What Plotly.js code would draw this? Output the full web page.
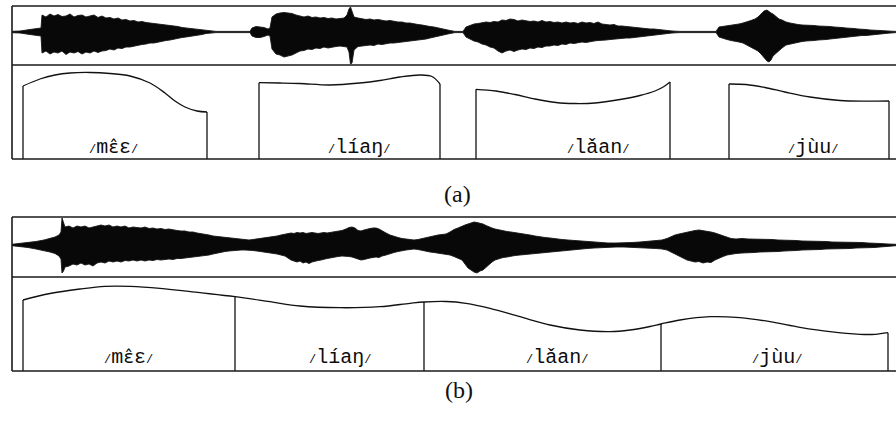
<!DOCTYPE html>
<html><head><meta charset="utf-8">
<script src="https://cdn.plot.ly/plotly-3.0.1.min.js"></script>
<style>html,body{margin:0;padding:0;background:#fff}#chart{width:896px;height:423px}</style>
</head><body><div id="chart"></div>
<script>
// ---- Panel (a): waveform envelope (time units, amplitude) ----
const waveA_t = [
12,20,30,38,41,42,46,50,54,58,
62,66,70,74,78,82,86,90,94,98,
102,106,110,114,118,122,126,130,134,138,
142,146,150,154,158,162,166,170,174,178,
182,186,190,194,198,202,206,210,216,250,
252,256,260,264,268,270,272,276,280,284,
288,292,296,300,304,308,312,316,320,324,
328,332,336,340,344,347,349,350.5,352,354,
358,362,366,370,374,378,382,386,390,394,
398,402,406,410,414,418,422,426,430,434,
438,442,446,450,455,463,466,470,474,478,
482,486,490,494,498,502,506,510,514,518,
522,526,530,534,538,542,546,550,554,558,
562,566,570,574,578,582,586,590,594,598,
602,606,610,614,618,622,626,630,634,638,
642,646,650,654,658,662,666,672,680,716,
719,723,727,731,735,739,743,747,751,755,
758,761,764,767,769,771,773,776,779,782,
786,790,794,798,802,806,810,814,818,822,
826,830,834,838,842,846,850,854,858,862,
866,870,875,880,888,896];
const waveA_hi = [
0.7,1,2.5,3.5,4,17,15,18,16,17.5,
15.5,16,18,15,16.5,17,15,16,17,14.5,
16,14,14.5,13,14,12,12.5,11,11.5,10,
10.5,9.5,9,9,8,8,7,6.5,6,5.5,
4.5,4,3.5,3,2.5,2,1.4,1,0.6,0.6,
4,5.5,5,4.5,3,4,15,18,19,19.5,
19,18.5,17,16,15,16,14.5,15,14,14.5,
13.5,14,13,13.5,14,17,23,25,21,15,
14,13.5,12.5,13,12,12.5,11.5,11,11.5,10.5,
10,10,9,9,8,7.5,7,6,5.5,5,
4,3.5,2.5,1.5,0.6,0.6,5,6.5,8,8.5,
9.5,10,9.5,10.5,10,12,11.5,13,12.5,11,
12,11,10.5,11,10,11.5,10,10.5,9.5,10,
9,10,9,9.5,8.5,10,9,9.5,8.5,10,
8,7.5,7,7.5,6,6,5.5,5,4.5,4.5,
4,3.5,3,3,2.5,2,1.5,1,0.6,0.6,
5,5.5,6,6.5,7.5,8,9,10,11.5,13,
15,18,21,22,20,19,18,15,13,12,
10,9,8,7.5,7,7,6.5,6.5,6,6,
5.5,5.5,5,5,4.5,4,4,3.5,3,3,
2.5,2,2,1.5,1,0.6];
const waveA_lo = [
-0.7,-1,-2.5,-3.5,-4,-21,-19,-22,-20,-21,
-19,-22.5,-20,-21,-19.5,-22,-20,-21,-19,-20.5,
-19,-18.5,-17,-18,-16,-16.5,-15,-15,-14,-13.5,
-12.5,-12,-11,-11,-10,-9.5,-8.5,-8,-7,-6.5,
-5.5,-5,-4.5,-3.5,-3,-2.5,-1.5,-1,-0.6,-0.6,
-4,-5.5,-5.5,-4.5,-3,-4,-17,-22,-23,-25,
-24,-23,-21,-19,-18.5,-17,-17.5,-16,-16.5,-15,
-16,-15,-14.5,-14,-15,-15,-20,-32,-31,-18,
-14.5,-14,-13.5,-13,-13.5,-12,-12.5,-11.5,-11,-11,
-10.5,-10,-9.5,-9,-9,-8,-7.5,-7,-6,-5,
-4.5,-3.5,-2.5,-1.5,-0.6,-0.6,-5,-7,-9,-10,
-12,-13,-15,-16,-19,-21,-19,-18,-19.5,-18,
-17,-17.5,-16,-16.5,-15,-15.5,-14,-14,-13,-13.5,
-12,-12.5,-11,-11.5,-10.5,-10,-10.5,-9.5,-9,-8.5,
-8.5,-8,-7.5,-7,-7,-6.5,-6,-6,-5.5,-5,
-5,-4.5,-4,-3.5,-3,-2.5,-2,-1,-0.6,-0.6,
-5,-6.5,-7.5,-8.5,-9,-10,-11,-13,-15,-17,
-19,-22,-26,-29,-30,-28,-24,-21,-18,-16,
-13,-12,-11,-10,-9.5,-9,-9,-8.5,-8,-8,
-7.5,-7,-6.5,-6,-5.5,-5.5,-5,-4.5,-4,-3.5,
-3.5,-3,-2.5,-2,-1.2,-0.6];

// ---- Panel (a): pitch contours, one per syllable ----
const pitchA1_t = [23,40,55,70,90,110,130,150,165,175,185,197,207];
const pitchA1_f = [73,80,84,86,86.5,85.5,83,76,66,58,52,48,47];
const pitchA2_t = [259,280,300,330,360,380,400,420,432,440];
const pitchA2_f = [76.3,76,75.5,74,76,78.5,82,84,82.5,75];
const pitchA3_t = [476,496,515,535,556,575,595,620,640,655,664,670];
const pitchA3_f = [69.7,68,64.5,60,56.5,55.5,56,59.5,63.5,68,72.5,77];
const pitchA4_t = [729,746,765,785,810,840,865,889];
const pitchA4_f = [75,74.5,71.5,67,62,58.5,57.8,58];
const labelsA = ["mɛ̂ɛ","líaŋ","lǎan","jùu"];
const labelsA_t = [113,359,598,813];

// ---- Panel (b): waveform envelope ----
const waveB_t = [
12,20,28,36,44,50,55,59,61,62,
63.5,65,69,73,77,81,85,89,93,97,
101,105,109,113,117,121,125,129,133,137,
141,145,149,153,157,161,165,169,173,177,
181,185,189,193,197,201,205,209,213,217,
221,225,229,233,237,241,245,249,253,257,
261,265,269,273,277,281,285,288,291,294,
297,300,303,306,309,312,315,318,321,324,
327,330,334,338,342,346,349,352,355,358,
361,364,367,370,373,376,379,382,386,390,
394,398,402,406,410,414,418,422,426,430,
434,438,442,446,450,454,458,462,465,468,
471,474,477,480,483,486,489,492,495,499,
503,507,511,515,520,525,530,535,540,545,
550,556,562,568,574,580,587,594,601,608,
616,624,632,640,648,656,662,667,671,675,
679,683,687,691,695,699,703,707,711,715,
719,723,727,731,736,742,748,754,760,766,
772,778,784,790,796,802,808,814,820,826,
832,838,844,850,856,862,868,874,880,888,
896];
const waveB_hi = [
0.7,1.5,2.5,3.5,5,6.5,8,10,13,27,
22,18,19,17,19,18,19,17,18,19,
20,19,20,18,19,18,19,17,18,17.5,
17,18,16.5,17,16,16.5,15.5,16,15,14.5,
14,14,13,13,12,11.5,11,10,9,8.5,
8,7.5,7,6.5,6,5.5,5,5,5.5,6,
6.5,7,7.5,8,9,10,11,12,12,11.5,
12.5,12,12.5,11.5,12,12.5,12,11.5,12,12.5,
12,12.5,13,13.5,14.5,16,17.5,18,17,14.5,
14,15,16,16.5,17,17,16,14,12,10,
8.5,7.5,6.5,6,5.5,5,5.5,6.5,7,8,
9,10,10.5,11,13,15.5,17,19,20,21,
22,23,22.5,22,21,19.5,18,17,16,15,
14,13.5,13,12.5,12,11,10,9,8,7.5,
7,6,5.5,5,4.5,4,3.5,3,2.5,2,
2,2,2.5,3,3.5,4,5,6.5,8.5,10,
11,12,13,14,14.5,15,14.5,14,13,12,
10.5,9,7.5,6.5,6,6.5,6,6,6,5.5,
5.5,5,5,4.5,4.5,4,4,3.5,3.5,3.5,
3,3,3,2.5,2.5,2.5,2,2,1.5,1,
0.7];
const waveB_lo = [
-0.7,-1.5,-2.5,-4,-5.5,-7,-8.5,-11,-14,-28,
-26,-22,-21,-19,-20,-18,-20,-19,-21,-18,
-17,-18,-16,-17,-16,-17,-15.5,-16,-15,-16,
-15,-16,-15,-15.5,-14.5,-15,-14.5,-14,-14.5,-13.5,
-13.5,-13,-13,-12,-12,-11.5,-11,-10,-9,-8,
-7,-6.5,-6,-5.5,-5.5,-5,-5,-5,-5.5,-6,
-6.5,-7,-7.5,-8,-9,-10,-11,-13,-15,-16,
-17,-16,-18,-17,-18.5,-17,-16,-15.5,-15,-14,
-13.5,-13,-12,-11.5,-11,-11,-11.5,-12,-13,-14,
-15,-14.5,-13.5,-13,-12.5,-12,-12.5,-11,-10,-8.5,
-7.5,-6.5,-5.5,-5,-4.5,-4,-4.5,-5.5,-6.5,-7,
-7.5,-8,-8.5,-9,-10,-11.5,-13,-15,-19,-23,
-25,-27,-28,-26,-25,-22,-19,-17,-15,-13.5,
-12.5,-12,-11,-10.5,-10,-9.5,-9,-8.5,-8,-7.5,
-7,-6,-5.5,-5,-4.5,-4,-3.5,-3,-2.5,-2,
-2,-2,-2.2,-2.5,-3,-3.5,-4,-5,-7,-9,
-11,-13,-15,-16,-17,-16.5,-18,-17,-17.5,-15,
-13,-11.5,-10,-9,-8.5,-8,-8,-7.5,-7,-7,
-6.5,-6.5,-6,-6,-5.5,-5,-5,-4.5,-4.5,-4,
-4,-4,-3.5,-3.5,-3,-3,-2.5,-2.5,-2,-1.5,
-0.7];

// ---- Panel (b): continuous pitch contour with syllable boundaries ----
const pitchB_t = [23,50,80,105,130,160,200,235,270,300,340,380,410,424,446,466,490,520,550,580,610,630,650,661,680,710,740,770,800,830,860,875,888];
const pitchB_f = [71,77.5,82,84.7,84.7,82.7,78.3,74.3,69.3,65,63.3,64.3,67.7,69,69.5,67.7,62.7,54.3,46,41,39.3,41,44.5,47,51,54.3,53.3,49.3,43.7,39.3,36.7,36.7,38.3];
const boundsB_t = [23,235,424,661,888];
const labelsB = ["mɛ̂ɛ","líaŋ","lǎan","jùu"];
const labelsB_t = [128,340,557,777];

const panelCaptions = ["(a)","(b)"];

// ---------------- build ----------------
const W = 896, H = 423;
const px = v => v / W;
const py = v => 1 - v / H;
const traces = [];

function wave(t, hi, lo, ya) {
  traces.push({x:t, y:hi, xaxis:'x', yaxis:ya, type:'scatter', mode:'lines',
    line:{color:'#151515', width:0.9}, hoverinfo:'skip', showlegend:false});
  traces.push({x:t, y:lo, xaxis:'x', yaxis:ya, type:'scatter', mode:'lines', fill:'tonexty',
    fillcolor:'#080808', line:{color:'#151515', width:0.9}, hoverinfo:'skip', showlegend:false});
}
function contour(t, f, ya) {
  traces.push({x:t, y:f, xaxis:'x', yaxis:ya, type:'scatter', mode:'lines',
    line:{color:'#111', width:1.3, shape:'spline', smoothing:1}, hoverinfo:'skip', showlegend:false});
}
function verticals(ts, t, f, ya) {
  const xs = [], ys = [];
  ts.forEach(b => {
    const i = t.indexOf(b);
    xs.push(b, b, null); ys.push(0, f[i], null);
  });
  traces.push({x:xs, y:ys, xaxis:'x', yaxis:ya, type:'scatter', mode:'lines',
    line:{color:'#111', width:1.3}, hoverinfo:'skip', showlegend:false});
}

wave(waveA_t, waveA_hi, waveA_lo, 'y');
[[pitchA1_t,pitchA1_f],[pitchA2_t,pitchA2_f],[pitchA3_t,pitchA3_f],[pitchA4_t,pitchA4_f]].forEach(([t,f]) => {
  contour(t, f, 'y2');
  verticals([t[0], t[t.length-1]], t, f, 'y2');
});
wave(waveB_t, waveB_hi, waveB_lo, 'y3');
contour(pitchB_t, pitchB_f, 'y4');
verticals(boundsB_t, pitchB_t, pitchB_f, 'y4');

const slash = '<span style="font-size:12px">/</span>';
// render the combining circumflex with a font that positions it correctly
const fix = s => s.replace('ɛ̂', '<span style="font-family:DejaVu Sans Mono;font-size:18px">ɛ̂</span>');
const annotations = [];
const labFont = {family:'Liberation Mono, DejaVu Sans Mono, monospace', size:20, color:'#0d0d0d'};
labelsA.forEach((s,i) => annotations.push({x:labelsA_t[i], y:12, xref:'x', yref:'y2',
  text: slash + fix(s) + slash, showarrow:false, font:labFont, xanchor:'center', yanchor:'middle'}));
labelsB.forEach((s,i) => annotations.push({x:labelsB_t[i], y:14, xref:'x', yref:'y4',
  text: slash + fix(s) + slash, showarrow:false, font:labFont, xanchor:'center', yanchor:'middle'}));
const capFont = {family:'Liberation Serif, DejaVu Serif, serif', size:24, color:'#111'};
annotations.push({x:px(457), y:py(194), xref:'paper', yref:'paper', text:panelCaptions[0], showarrow:false, font:capFont});
annotations.push({x:px(459), y:py(405), xref:'paper', yref:'paper', text:panelCaptions[1], showarrow:false, font:capFont});

const lc = {color:'#1a1a1a', width:1.6};
const hline = (y) => ({type:'line', xref:'paper', yref:'paper', x0:px(12), x1:1, y0:py(y), y1:py(y), line:lc});
const vline = (x, y0, y1) => ({type:'line', xref:'paper', yref:'paper', x0:px(x), x1:px(x), y0:py(y0), y1:py(y1), line:lc});
const shapes = [hline(6), hline(65), hline(159), vline(12,6,159), hline(217), hline(277), hline(371), vline(12,217,371)];

const ax = {showgrid:false, zeroline:false, showticklabels:false, ticks:'', showline:false, fixedrange:true};
const layout = {
  width:W, height:H, margin:{l:0,r:0,t:0,b:0},
  paper_bgcolor:'#fff', plot_bgcolor:'rgba(0,0,0,0)', showlegend:false,
  xaxis: Object.assign({}, ax, {range:[0,896], domain:[0,1], anchor:'y'}),
  yaxis: Object.assign({}, ax, {range:[-33,26], domain:[py(65), py(6)], anchor:'x'}),
  yaxis2: Object.assign({}, ax, {range:[0,94], domain:[py(159), py(65)], anchor:'x'}),
  yaxis3: Object.assign({}, ax, {range:[-32,28], domain:[py(277), py(217)], anchor:'x'}),
  yaxis4: Object.assign({}, ax, {range:[0,94], domain:[py(371), py(277)], anchor:'x'}),
  shapes: shapes, annotations: annotations
};
Plotly.newPlot('chart', traces, layout, {staticPlot:true, displayModeBar:false});
</script></body></html>
